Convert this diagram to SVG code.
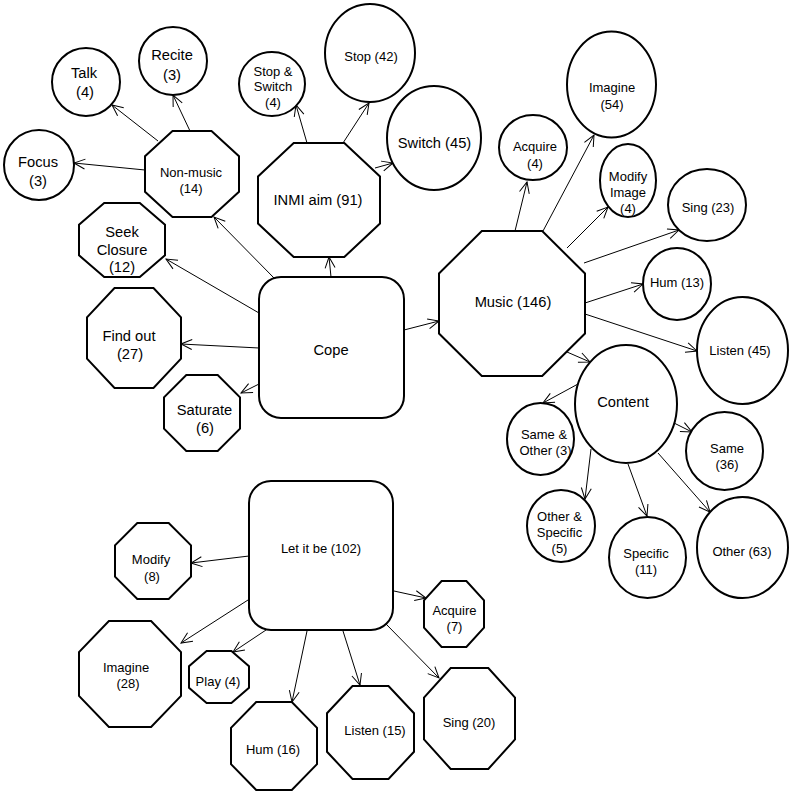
<svg xmlns="http://www.w3.org/2000/svg" width="793" height="794" viewBox="0 0 793 794">
<style>
.n{fill:#fff;stroke:#000;stroke-width:2}
.c line{stroke:#000;stroke-width:1;marker-end:url(#arr)}
text{font-family:"Liberation Sans",Arial,sans-serif;font-size:13px;fill:#000;text-anchor:middle}
.b{font-size:14.7px}
</style>
<defs>
<marker id="arr" viewBox="-12 -6 13 12" refX="0" refY="0" markerWidth="13" markerHeight="12" markerUnits="userSpaceOnUse" orient="auto">
<path d="M-11,-5 L0,0 L-11,5" fill="none" stroke="#000" stroke-width="1"/>
</marker>
</defs>
<rect width="793" height="794" fill="#fff"/>
<g class="c" id="connectors">
<line x1="274" y1="278" x2="214" y2="217"/>
<line x1="331" y1="277" x2="329" y2="257"/>
<line x1="259" y1="313" x2="166" y2="259"/>
<line x1="259" y1="348" x2="181" y2="344"/>
<line x1="259" y1="384" x2="241" y2="393"/>
<line x1="404" y1="330" x2="439" y2="321"/>
<line x1="158" y1="141" x2="112" y2="105"/>
<line x1="190" y1="131" x2="173" y2="95"/>
<line x1="145" y1="170" x2="74" y2="163"/>
<line x1="307" y1="143" x2="296" y2="105"/>
<line x1="343" y1="143" x2="369" y2="103"/>
<line x1="375" y1="168" x2="393" y2="163"/>
<line x1="515" y1="231" x2="527" y2="182"/>
<line x1="543" y1="231" x2="594" y2="135"/>
<line x1="567" y1="248" x2="608" y2="207"/>
<line x1="584" y1="263" x2="679" y2="230"/>
<line x1="585" y1="303" x2="643" y2="284"/>
<line x1="585" y1="314" x2="697" y2="351"/>
<line x1="567" y1="352" x2="590" y2="362"/>
<line x1="578" y1="384" x2="543" y2="403"/>
<line x1="674" y1="423" x2="692" y2="432"/>
<line x1="591" y1="449" x2="585" y2="499"/>
<line x1="628" y1="464" x2="647" y2="516"/>
<line x1="658" y1="453" x2="710" y2="512"/>
<line x1="249" y1="556" x2="191" y2="563"/>
<line x1="248" y1="600" x2="181" y2="643"/>
<line x1="266" y1="630" x2="233" y2="652"/>
<line x1="307" y1="631" x2="292" y2="702"/>
<line x1="343" y1="631" x2="360" y2="685"/>
<line x1="386" y1="624" x2="439" y2="678"/>
<line x1="394" y1="591" x2="426" y2="598"/>
</g>
<g id="cope"><rect class="n" x="259" y="277" width="145" height="141" rx="22"/><text class="b" x="331" y="355">Cope</text></g>
<g id="letitbe"><rect class="n" x="249" y="481" width="144" height="149" rx="22"/><text x="321" y="552.5">Let it be (102)</text></g>
<g id="nonmusic"><polygon class="n" points="172.5,131 211.5,131 239,156.2 239,191.8 211.5,217 172.5,217 145,191.8 145,156.2"/><text x="191" y="176.5">Non-music</text><text x="191" y="192.5">(14)</text></g>
<g id="talk"><circle class="n" cx="86" cy="82" r="34"/><text class="b" x="84" y="78">Talk</text><text class="b" x="85" y="97">(4)</text></g>
<g id="recite"><circle class="n" cx="173" cy="61" r="34"/><text class="b" x="172" y="60">Recite</text><text class="b" x="172" y="80">(3)</text></g>
<g id="focus"><circle class="n" cx="39" cy="165" r="35"/><text class="b" x="38" y="167">Focus</text><text class="b" x="38" y="186">(3)</text></g>
<g id="inmi"><polygon class="n" points="293.7,143 344.3,143 380,176.4 380,223.6 344.3,257 293.7,257 258,223.6 258,176.4"/><text class="b" x="318" y="205">INMI aim (91)</text></g>
<g id="stopswitch"><ellipse class="n" cx="272" cy="84" rx="33" ry="32"/><text x="273" y="75.5">Stop &amp;</text><text x="273" y="91">Switch</text><text x="273" y="107">(4)</text></g>
<g id="stop"><ellipse class="n" cx="370" cy="53" rx="45" ry="49"/><text x="371" y="60.5">Stop (42)</text></g>
<g id="switch"><ellipse class="n" cx="434" cy="138" rx="47" ry="52"/><text class="b" x="434.5" y="148">Switch (45)</text></g>
<g id="seekclosure"><polygon class="n" points="104.2,203 139.8,203 165,224.7 165,255.3 139.8,277 104.2,277 79,255.3 79,224.7"/><text class="b" x="122" y="237">Seek</text><text class="b" x="122" y="255">Closure</text><text class="b" x="122" y="272">(12)</text></g>
<g id="findout"><polygon class="n" points="114.5,288 153.5,288 181,317.3 181,358.7 153.5,388 114.5,388 87,358.7 87,317.3"/><text class="b" x="129" y="341">Find out</text><text class="b" x="130" y="359">(27)</text></g>
<g id="saturate"><polygon class="n" points="186.3,375 217.7,375 240,397.3 240,428.7 217.7,451 186.3,451 164,428.7 164,397.3"/><text class="b" x="204.5" y="415">Saturate</text><text class="b" x="205" y="433">(6)</text></g>
<g id="music"><polygon class="n" points="481.8,231 542.2,231 585,273.5 585,333.5 542.2,376 481.8,376 439,333.5 439,273.5"/><text class="b" x="513" y="307">Music (146)</text></g>
<g id="acquire4"><ellipse class="n" cx="533" cy="147.5" rx="34" ry="32.5"/><text x="535" y="150.5">Acquire</text><text x="535" y="167.5">(4)</text></g>
<g id="imagine54"><ellipse class="n" cx="611.5" cy="84.5" rx="44.5" ry="53"/><text x="612" y="91.5">Imagine</text><text x="612" y="108.5">(54)</text></g>
<g id="modifyimage"><ellipse class="n" cx="628" cy="180.5" rx="28" ry="36.5"/><text x="628" y="180.5">Modify</text><text x="628" y="196.5">Image</text><text x="628" y="212.5">(4)</text></g>
<g id="sing23"><ellipse class="n" cx="707" cy="205" rx="39" ry="36"/><text x="708" y="211.5">Sing (23)</text></g>
<g id="hum13"><ellipse class="n" cx="677" cy="284" rx="34" ry="36"/><text x="677" y="286.5">Hum (13)</text></g>
<g id="listen45"><ellipse class="n" cx="742.5" cy="350.5" rx="45.5" ry="53.5"/><text x="740" y="354.5">Listen (45)</text></g>
<g id="content"><ellipse class="n" cx="626" cy="404" rx="51" ry="59"/><text class="b" x="623" y="407">Content</text></g>
<g id="sameother"><ellipse class="n" cx="540.5" cy="439" rx="33.5" ry="36"/><text x="544" y="438.5">Same &amp;</text><text x="545.5" y="454.5">Other (3)</text></g>
<g id="same36"><ellipse class="n" cx="724.5" cy="451" rx="38.5" ry="39"/><text x="727" y="452.5">Same</text><text x="727" y="468.5">(36)</text></g>
<g id="otherspecific"><ellipse class="n" cx="561" cy="526" rx="34" ry="36"/><text x="559.5" y="520.5">Other &amp;</text><text x="559.5" y="536.5">Specific</text><text x="559.5" y="552.5">(5)</text></g>
<g id="specific11"><ellipse class="n" cx="647.5" cy="557.5" rx="38.5" ry="40.5"/><text x="646" y="557.5">Specific</text><text x="646" y="573.5">(11)</text></g>
<g id="other63"><ellipse class="n" cx="742.5" cy="547.5" rx="45.5" ry="50.5"/><text x="742" y="555.5">Other (63)</text></g>
<g id="modify8"><polygon class="n" points="137.3,523 168.7,523 191,545.3 191,576.7 168.7,599 137.3,599 115,576.7 115,545.3"/><text x="151" y="563.5">Modify</text><text x="152" y="580.5">(8)</text></g>
<g id="imagine28"><polygon class="n" points="108.9,621 151.1,621 181,652.1 181,695.9 151.1,727 108.9,727 79,695.9 79,652.1"/><text x="126" y="671.5">Imagine</text><text x="128" y="687.5">(28)</text></g>
<g id="play4"><polygon class="n" points="206.6,651 231.4,651 249,666.2 249,687.8 231.4,703 206.6,703 189,687.8 189,666.2"/><text x="218" y="685.5">Play (4)</text></g>
<g id="hum16"><polygon class="n" points="256.2,702 291.8,702 317,727.8 317,764.2 291.8,790 256.2,790 231,764.2 231,727.8"/><text x="273" y="753.5">Hum (16)</text></g>
<g id="listen15"><polygon class="n" points="352.5,686 388.5,686 414,713.2 414,751.8 388.5,779 352.5,779 327,751.8 327,713.2"/><text x="375" y="734.5">Listen (15)</text></g>
<g id="sing20"><polygon class="n" points="450.7,668 488.3,668 515,697.6 515,739.4 488.3,769 450.7,769 424,739.4 424,697.6"/><text x="469" y="726.5">Sing (20)</text></g>
<g id="acquire7"><polygon class="n" points="441.6,581 466.4,581 484,600.3 484,627.7 466.4,647 441.6,647 424,627.7 424,600.3"/><text x="454.5" y="614.5">Acquire</text><text x="454.5" y="630.5">(7)</text></g>
</svg>
